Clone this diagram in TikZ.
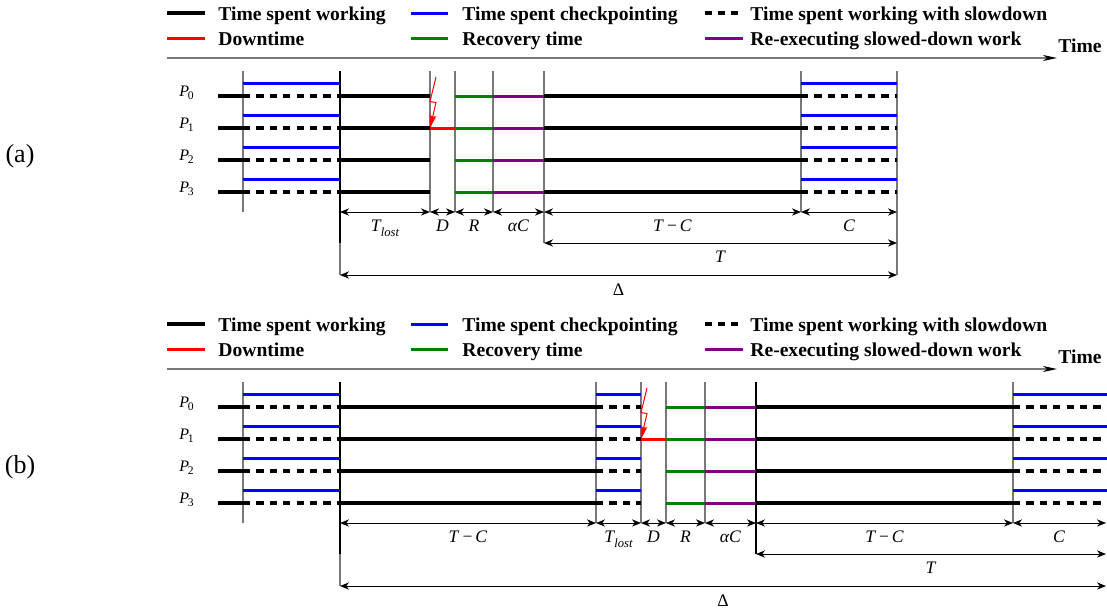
\documentclass[tikz,border=0pt]{standalone}
\usepackage{fontspec}
\setmainfont{Liberation Serif}
\usetikzlibrary{arrows.meta}
\definecolor{cblue}{RGB}{0,0,255}
\definecolor{cred}{RGB}{255,0,0}
\definecolor{cgreen}{RGB}{0,128,0}
\definecolor{cpurple}{RGB}{128,0,128}
\definecolor{cgray}{RGB}{120,120,120}
\newcommand\Pn[1]{\textit{P}\kern-0.08em\raisebox{-0.22em}{\fontsize{5.8}{6}\selectfont #1}}
\newcommand\Tlost{\textit{T}\kern-0.05em\raisebox{-0.28em}{\fontsize{6.3}{6}\selectfont\itshape lost}}
\newcommand\TmC{\textit{T}\,−\,\textit{C}}
\newcommand\mylegend[1]{%
  \draw[work] (167,13.3) -- (205,13.3);
  \node[leg] (lwork#1) at (218,20.7) {Time spent working};
  \draw[ckpt] (411,13.3) -- (448,13.3);
  \node[leg] (lckpt#1) at (462,20.7) {Time spent checkpointing};
  \draw[work,dash pattern=on 3.35pt off 3.15pt] (705,13.3) -- (738,13.3);
  \node[leg] (lslow#1) at (750,20.7) {Time spent working with slowdown};
  \draw[downt] (167,38.3) -- (205,38.3);
  \node[leg] (ldown#1) at (218,45.3) {Downtime};
  \draw[recov] (411,38.3) -- (448,38.3);
  \node[leg] (lrec#1) at (462,45.3) {Recovery time};
  \draw[reex] (705,38.3) -- (743,38.3);
  \node[leg] (lreex#1) at (750,45.3) {Re-executing slowed-down work};
  \coordinate (axs#1) at (167,58);
  \coordinate (axe#1) at (1057,58);
  \draw[axis] (axs#1) -- (axe#1);
  \node[leg] (ltime#1) at (1058,52) {Time};
}
\begin{document}
\begin{tikzpicture}[x=0.5pt,y=-0.5pt,
  work/.style={line width=2pt,black},
  slow/.style={line width=2pt,black,dash pattern=on 3.6pt off 3.1pt},
  ckpt/.style={line width=1.5pt,cblue},
  downt/.style={line width=1.6pt,cred},
  recov/.style={line width=1.5pt,cgreen},
  reex/.style={line width=1.5pt,cpurple},
  vline/.style={line width=0.75pt,cgray},
  vdark/.style={line width=0.75pt,black},
  dim/.style={line width=0.5pt,{Stealth[length=4.5pt,width=3.6pt,inset=1.4pt]}-{Stealth[length=4.5pt,width=3.6pt,inset=1.4pt]}},
  axis/.style={line width=0.75pt,cgray,-{Stealth[length=7pt,width=3pt,inset=2pt,color=black]}},
  bolt/.style={line width=0.5pt,cred,-{Stealth[length=6.5pt,width=3.2pt,inset=0.5pt]}},
  leg/.style={anchor=base west,inner sep=0pt,font=\fontsize{9.8}{11}\selectfont\bfseries},
  plab/.style={anchor=base east,inner sep=0pt,font=\fontsize{8}{9}\selectfont},
  dlab/.style={anchor=base,inner sep=0pt,font=\fontsize{8.8}{10}\selectfont},
  tag/.style={inner sep=0pt,font=\fontsize{13}{15}\selectfont},
]
\useasboundingbox (0,0) rectangle (1107,612);

% ================= panel (a) =================
\mylegend{a}
\node[tag] (taga) at (20,156) {(a)};
\foreach \x in {243,430,455,493,801} {\draw[vline] (\x,71) -- (\x,212);}
\draw[vline] (544,71) -- (544,243);
\draw[vline] (897,71) -- (897,275);
\draw[vdark] (340,71) -- (340,243);
\draw[vline] (340,243) -- (340,275);
\foreach \i/\y in {0/96.3,1/128.3,2/160.3,3/192.3} {
  \node[plab] (pa\i) at (194,\y) {\Pn{\i}};
  \draw[work] (218,\y) -- (243,\y);
  \draw[slow] (243,\y) -- (340,\y);
  \draw[ckpt] (243,\y-13) -- (340,\y-13);
  \draw[work] (340,\y) -- (430,\y);
  \draw[recov] (455,\y) -- (493,\y);
  \draw[reex] (493,\y) -- (544,\y);
  \draw[work] (544,\y) -- (801,\y);
  \draw[slow] (801,\y) -- (897,\y);
  \draw[ckpt] (801,\y-13) -- (897,\y-13);
}
\draw[downt] (430,128.3) -- (455,128.3);
\draw[bolt] (436,77) -- (430,101.5) -- (436,102.5) -- (430,128.3);
\coordinate (a1) at (340,212); \coordinate (a2) at (430,212);
\coordinate (a3) at (455,212); \coordinate (a4) at (493,212);
\coordinate (a5) at (544,212); \coordinate (a6) at (801,212);
\coordinate (a7) at (897,212);
\draw[dim] (a1) -- (a2); \draw[dim] (a2) -- (a3); \draw[dim] (a3) -- (a4);
\draw[dim] (a4) -- (a5); \draw[dim] (a5) -- (a6); \draw[dim] (a6) -- (a7);
\node[dlab] (ta1) at (385,231.5) {\Tlost};
\node[dlab] (ta2) at (442.5,231.5) {\textit{D}};
\node[dlab] (ta3) at (474,231.5) {\textit{R}};
\node[dlab] (ta4) at (518.5,231.5) {\textit{αC}};
\node[dlab] (ta5) at (672.5,231.5) {\TmC};
\node[dlab] (ta6) at (849,231.5) {\textit{C}};
\coordinate (aT1) at (544,243); \coordinate (aT2) at (897,243);
\draw[dim] (aT1) -- (aT2);
\node[dlab] (taT) at (720.5,262.5) {\textit{T}};
\coordinate (aD1) at (340,275); \coordinate (aD2) at (897,275);
\draw[dim] (aD1) -- (aD2);
\node[dlab] (taD) at (618.5,295) {Δ};

% ================= panel (b) =================
\begin{scope}[yshift=-155.5pt]
\mylegend{b}
\node[tag] (tagb) at (20,156) {(b)};
\foreach \x in {243,596,641,666,705,1013} {\draw[vline] (\x,71) -- (\x,212);}
\draw[vdark] (756,71) -- (756,243);
\draw[vdark] (340,71) -- (340,243);
\draw[vline] (340,243) -- (340,275);
\foreach \i/\y in {0/96.3,1/128.3,2/160.3,3/192.3} {
  \node[plab] (pb\i) at (194,\y) {\Pn{\i}};
  \draw[work] (218,\y) -- (243,\y);
  \draw[slow] (243,\y) -- (340,\y);
  \draw[ckpt] (243,\y-13) -- (340,\y-13);
  \draw[work] (340,\y) -- (596,\y);
  \draw[slow] (596,\y) -- (641,\y);
  \draw[ckpt] (596,\y-13) -- (641,\y-13);
  \draw[recov] (666,\y) -- (705,\y);
  \draw[reex] (705,\y) -- (756,\y);
  \draw[work] (756,\y) -- (1013,\y);
  \draw[slow] (1013,\y) -- (1107,\y);
  \draw[ckpt] (1013,\y-13) -- (1107,\y-13);
}
\draw[downt] (641,128.3) -- (666,128.3);
\draw[bolt] (647,77) -- (641,101.5) -- (647,102.5) -- (641,128.3);
\coordinate (b1) at (340,212); \coordinate (b2) at (596,212);
\coordinate (b3) at (641,212); \coordinate (b4) at (666,212);
\coordinate (b5) at (705,212); \coordinate (b6) at (756,212);
\coordinate (b7) at (1013,212); \coordinate (b8) at (1106,212);
\draw[dim] (b1) -- (b2); \draw[dim] (b2) -- (b3); \draw[dim] (b3) -- (b4);
\draw[dim] (b4) -- (b5); \draw[dim] (b5) -- (b6); \draw[dim] (b6) -- (b7);
\draw[dim] (b7) -- (b8);
\node[dlab] (tb1) at (468,231.5) {\TmC};
\node[dlab] (tb2) at (618.5,231.5) {\Tlost};
\node[dlab] (tb3) at (653.5,231.5) {\textit{D}};
\node[dlab] (tb4) at (685.5,231.5) {\textit{R}};
\node[dlab] (tb5) at (730.5,231.5) {\textit{αC}};
\node[dlab] (tb6) at (884.5,231.5) {\TmC};
\node[dlab] (tb7) at (1059,231.5) {\textit{C}};
\coordinate (bT1) at (756,243); \coordinate (bT2) at (1106,243);
\draw[dim] (bT1) -- (bT2);
\node[dlab] (tbT) at (931,262.5) {\textit{T}};
\coordinate (bD1) at (340,275); \coordinate (bD2) at (1106,275);
\draw[dim] (bD1) -- (bD2);
\node[dlab] (tbD) at (723,295) {Δ};
\end{scope}
\end{tikzpicture}
\end{document}
